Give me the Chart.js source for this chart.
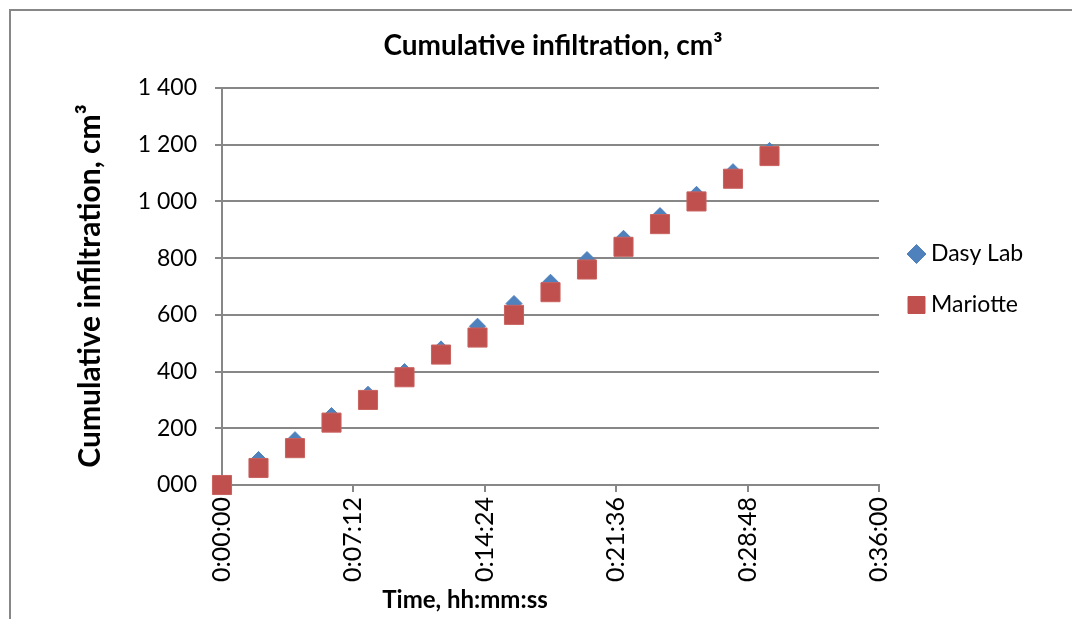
<!DOCTYPE html>
<html>
<head>
<meta charset="utf-8">
<script src="https://cdn.jsdelivr.net/npm/chart.js@4.4.1/dist/chart.umd.min.js"></script>
<style>
  html, body { margin: 0; padding: 0; background: #ffffff; }
  #wrap { width: 1072px; height: 619px; position: relative; }
</style>
</head>
<body>
<div id="wrap"><canvas id="chart" width="1072" height="619"></canvas></div>
<script>
// Elapsed time of each reading, minutes
const timeMinutes = [0, 2, 4, 6, 8, 10, 12, 14, 16, 18, 20, 22, 24, 26, 28, 30];
// Cumulative infiltration, cm³
const dasyLab  = [0, 90, 160, 245, 320, 400, 480, 560, 640, 715, 795, 870, 950, 1025, 1105, 1180];
const mariotte = [0, 60, 130, 220, 300, 380, 460, 520, 600, 680, 760, 840, 920, 1000, 1080, 1160];

// Axis ticks
const xTickMinutes = [0, 7.2, 14.4, 21.6, 28.8, 36];
const xTickLabels  = ['0:00:00', '0:07:12', '0:14:24', '0:21:36', '0:28:48', '0:36:00'];
const yTickValues  = [0, 200, 400, 600, 800, 1000, 1200, 1400];
const yTickLabels  = ['000', '200', '400', '600', '800', '1 000', '1 200', '1 400'];

const seriesNames = ['Dasy Lab', 'Mariotte'];
const chartTitle = 'Cumulative infiltration, cm³';
const yAxisTitle = 'Cumulative infiltration, cm³';
const xAxisTitle = 'Time, hh:mm:ss';

const BLUE = '#4F81BD';
const RED = '#C0504D';
const GRID = '#878787';
const FONT = 'Lato, "Open Sans", sans-serif';

const toPoints = (vals) => vals.map((v, i) => ({ x: timeMinutes[i], y: v }));

// Frame, title, axis titles and legend
const decorations = {
  id: 'decorations',
  beforeDraw(chart) {
    const ctx = chart.ctx;
    ctx.save();
    ctx.strokeStyle = GRID;
    ctx.lineWidth = 2;
    ctx.beginPath();
    ctx.moveTo(10, 619);
    ctx.lineTo(10, 10);
    ctx.lineTo(1072, 10);
    ctx.stroke();
    ctx.restore();
  },
  afterDraw(chart) {
    const ctx = chart.ctx;
    ctx.save();
    ctx.fillStyle = '#000000';
    ctx.textBaseline = 'middle';
    ctx.textAlign = 'center';

    ctx.font = 'bold 28px ' + FONT;
    ctx.fillText(chartTitle, 553, 46);

    ctx.save();
    ctx.translate(90, 286);
    ctx.rotate(-Math.PI / 2);
    ctx.font = 'bold 30px ' + FONT;
    ctx.fillText(yAxisTitle, 0, 0);
    ctx.restore();

    ctx.font = 'bold 24px ' + FONT;
    ctx.fillText(xAxisTitle, 465, 600);

    // legend entries
    const entries = [
      { label: chart.data.datasets[0].label, style: 'rectRot', color: BLUE, r: 9.5, y: 254 },
      { label: chart.data.datasets[1].label, style: 'rect', color: RED, r: 12, y: 305 }
    ];
    ctx.font = '23px ' + FONT;
    ctx.textAlign = 'left';
    entries.forEach(e => {
      ctx.fillStyle = e.color;
      ctx.strokeStyle = e.color;
      ctx.lineWidth = 1;
      Chart.helpers.drawPoint(ctx, { pointStyle: e.style, radius: e.r, borderWidth: 1 }, 916.5, e.y);
      ctx.fillStyle = '#000000';
      ctx.fillText(e.label, 931, e.y);
    });
    ctx.restore();
  }
};

new Chart(document.getElementById('chart'), {
  type: 'scatter',
  data: {
    datasets: [
      {
        label: seriesNames[0],
        data: toPoints(dasyLab),
        pointStyle: 'rectRot',
        pointRadius: 8,
        pointHoverRadius: 8,
        backgroundColor: BLUE,
        borderColor: BLUE,
        borderWidth: 1,
        clip: false,
        order: 1
      },
      {
        label: seriesNames[1],
        data: toPoints(mariotte),
        pointStyle: 'rect',
        pointRadius: 13.5,
        pointHoverRadius: 13.5,
        backgroundColor: RED,
        borderColor: '#C9625F',
        borderWidth: 1,
        clip: false,
        order: 0
      }
    ]
  },
  plugins: [decorations],
  options: {
    responsive: false,
    animation: false,
    events: [],
    layout: { padding: { left: 100, right: 193, top: 88, bottom: 0 } },
    plugins: {
      legend: { display: false },
      title: { display: false },
      tooltip: { enabled: false }
    },
    scales: {
      x: {
        type: 'linear',
        min: 0,
        max: 36,
        afterBuildTicks(scale) { scale.ticks = xTickMinutes.map(v => ({ value: v })); },
        afterFit(scale) { scale.height = 134; },
        ticks: {
          minRotation: 90,
          maxRotation: 90,
          padding: 5,
          color: '#000000',
          font: { family: FONT, size: 25 },
          callback: (value) => xTickLabels[xTickMinutes.indexOf(value)]
        },
        grid: { drawOnChartArea: false, drawTicks: true, tickLength: 7, color: GRID, lineWidth: 2 },
        border: { display: true, color: GRID, width: 2 }
      },
      y: {
        type: 'linear',
        min: 0,
        max: 1400,
        afterBuildTicks(scale) { scale.ticks = yTickValues.map(v => ({ value: v })); },
        afterFit(scale) { scale.width = 122; },
        ticks: {
          padding: 18,
          color: '#000000',
          font: { family: FONT, size: 23 },
          callback: (value) => yTickLabels[yTickValues.indexOf(value)]
        },
        grid: { drawTicks: true, tickLength: 7, color: GRID, lineWidth: 2 },
        border: { display: true, color: GRID, width: 2 }
      }
    }
  }
});
</script>
</body>
</html>
